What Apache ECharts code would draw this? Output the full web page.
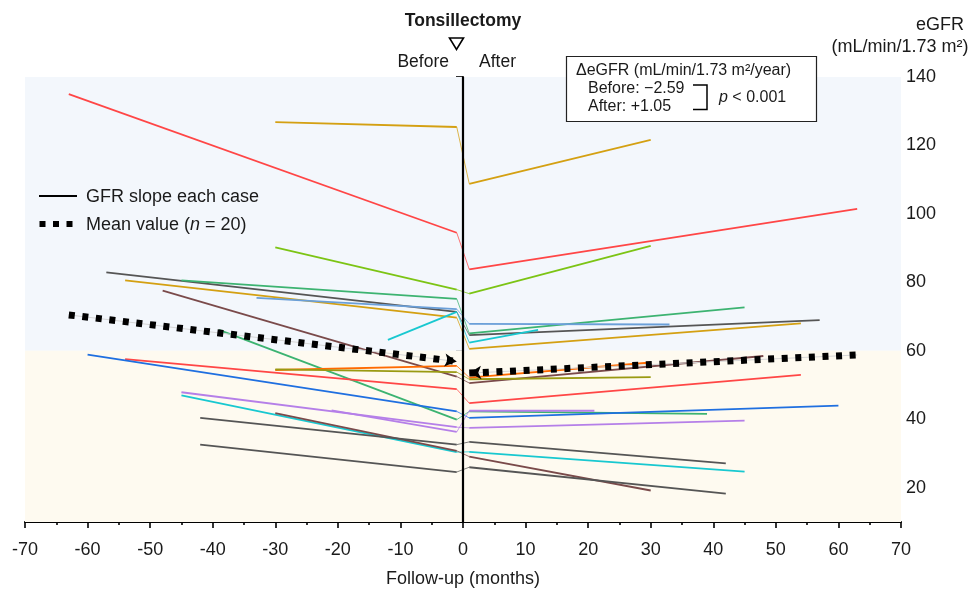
<!DOCTYPE html>
<html>
<head>
<meta charset="utf-8">
<script src="https://cdn.jsdelivr.net/npm/echarts@6/dist/echarts.min.js"></script>
<style>
  html, body { margin: 0; padding: 0; background: #fff; }
  #chart { width: 972px; height: 593px; }
</style>
</head>
<body>
<div id="chart"></div>
<script>
// follow-up window of each case (months before / after tonsillectomy)
const startMonth = [-63, -30, -30, -57, -45, -54, -33, -48, -12, -39, -30, -30, -54, -60, -45, -21, -45, -30, -42, -42]
const endMonth   = [63, 30, 30, 57, 45, 54, 33, 48, 12, 39, 30, 30, 54, 60, 45, 21, 45, 30, 42, 42]
// eGFR at the start / end of the "before" period
const beforeStart = [135, 126.8, 90.2, 82.9, 80.6, 80.6, 75.5, 77.6, 63.2, 66.1, 54.4, 54.6, 57.6, 58.9, 47.9, 42.6, 47.0, 41.8, 40.4, 32.6]
const beforeEnd   = [94.5, 125.4, 77.9, 71.4, 75.2, 69.7, 72.2, 52.5, 71.4, 39.9, 55.6, 53.8, 48.8, 42.3, 37.7, 36.3, 30.4, 30.8, 32.6, 24.6]
// eGFR at the start / end of the "after" period
const afterStart = [83.8, 108.8, 76.7, 64.6, 65.1, 60.6, 67.9, 50.6, 62.4, 42.3, 52.2, 51.7, 44.7, 40.4, 37.5, 42.5, 30.5, 29.1, 33.4, 26.0]
const afterEnd   = [101.5, 121.6, 90.7, 69.0, 72.7, 68.0, 67.7, 58.5, 66.1, 41.6, 56.6, 52.3, 53.0, 44.0, 39.6, 42.5, 24.7, 19.2, 27.1, 18.3]
const kinkMonth = 1
// mean value (n = 20)
const meanBeforeMonth = [-63, -1]
const meanBeforeValue = [70.5, 56.9]
const meanAfterMonth = [1, 63]
const meanAfterValue = [53.5, 58.8]
const yTicks = [20, 40, 60, 80, 100, 120, 140]

const caseColor = ['#ff4646', '#d4a012', '#7cc414', '#555555', '#3cb371', '#d4a012', '#6a9fd8',
  '#7a4a4a', '#18c8d0', '#3cb371', '#ff6a00', '#9a9a12', '#ff4646', '#1f6fe0', '#b57fe8',
  '#b57fe8', '#18c8d0', '#7a4a4a', '#555555', '#555555']

const FONT = '"Liberation Sans", Arial, sans-serif'
const INK = '#1a1a1a'

let series = []

// background bands
series.push({
  type: 'line',
  data: [],
  z: 1,
  markArea: {
    silent: true,
    itemStyle: {opacity: 1},
    data: [
      [{yAxis: 60, itemStyle: {color: '#f3f7fc'}}, {yAxis: 140}],
      [{yAxis: 10, itemStyle: {color: '#fefaf0'}}, {yAxis: 60}],
    ],
  },
})

for (let i = 0; i < startMonth.length; i++) {
  let c = caseColor[i]
  series.push({
    type: 'line', symbol: 'none', z: 3, silent: true,
    lineStyle: {color: c, width: 1.8},
    data: [[startMonth[i], beforeStart[i]], [-kinkMonth, beforeEnd[i]]],
  })
  series.push({
    type: 'line', symbol: 'none', z: 3, silent: true,
    lineStyle: {color: c, width: 1, opacity: 0.75},
    data: [[-kinkMonth, beforeEnd[i]], [kinkMonth, afterStart[i]]],
  })
  series.push({
    type: 'line', symbol: 'none', z: 3, silent: true,
    lineStyle: {color: c, width: 1.8},
    data: [[kinkMonth, afterStart[i]], [endMonth[i], afterEnd[i]]],
  })
}

// mean value: thin guide + dotted squares
let meanParts = [
  {m: meanBeforeMonth, v: meanBeforeValue, arrowAt: 1, rot: -97},
  {m: meanAfterMonth, v: meanAfterValue, arrowAt: 0, rot: 93},
]
meanParts.forEach(p => {
  let d = p.m.map((x, k) => [x, p.v[k]])
  series.push({
    type: 'line', symbol: 'none', z: 4, silent: true,
    lineStyle: {color: '#d6d6d6', width: 1},
    data: d,
  })
  series.push({
    type: 'line', z: 5, silent: true,
    symbol: (val, params) => params.dataIndex === p.arrowAt ? 'arrow' : 'none',
    symbolSize: [10, 12],
    symbolRotate: p.rot,
    itemStyle: {color: '#000'},
    lineStyle: {color: '#000', width: 7, type: [6, 7.6], cap: 'butt'},
    data: d,
  })
})

// vertical line at month 0
series.push({
  type: 'line',
  data: [],
  z: 8,
  markLine: {
    silent: true,
    symbol: 'none',
    label: {show: false},
    lineStyle: {color: '#000', width: 2.2, type: 'solid'},
    data: [{xAxis: 0}],
  },
})

let chart = echarts.init(document.getElementById('chart'))
chart.setOption({
  animation: false,
  textStyle: {fontFamily: FONT},
  grid: {left: 25, right: 71, top: 77, bottom: 69},
  xAxis: {
    type: 'value',
    min: -70,
    max: 70,
    interval: 10,
    axisLine: {lineStyle: {color: '#000', width: 2}},
    axisTick: {length: 6, lineStyle: {color: '#000', width: 1.6}},
    minorTick: {show: true, splitNumber: 2, length: 3, lineStyle: {color: '#000', width: 1.6}},
    splitLine: {show: false},
    minorSplitLine: {show: false},
    axisLabel: {color: INK, fontSize: 18, margin: 19, fontFamily: FONT},
    name: 'Follow-up (months)',
    nameLocation: 'middle',
    nameGap: 48,
    nameTextStyle: {color: INK, fontSize: 18, fontFamily: FONT},
  },
  yAxis: {
    type: 'value',
    position: 'right',
    min: 10,
    max: 140,
    axisLine: {show: true, lineStyle: {color: '#000', width: 2}},
    axisTick: {show: true, inside: true, length: 7, customValues: yTicks, lineStyle: {color: '#000', width: 1.6}},
    axisLabel: {color: INK, fontSize: 18, margin: 5, customValues: yTicks, fontFamily: FONT},
    splitLine: {show: false},
  },
  series: series,
  graphic: [
    // top annotation
    {type: 'text', z: 20, style: {text: 'Tonsillectomy', x: 463, y: 21, align: 'center', verticalAlign: 'middle',
      font: 'bold 17.5px ' + FONT, fill: INK}},
    {type: 'polygon', z: 20, shape: {points: [[449.5, 38], [463.5, 38], [456.5, 49.5]]},
      style: {fill: 'none', stroke: '#000', lineWidth: 1.6}},
    {type: 'text', z: 20, style: {text: 'Before', x: 449, y: 62.5, align: 'right', verticalAlign: 'middle',
      font: '17.5px ' + FONT, fill: INK}},
    {type: 'text', z: 20, style: {text: 'After', x: 479, y: 62.5, align: 'left', verticalAlign: 'middle',
      font: '17.5px ' + FONT, fill: INK}},
    // y axis title
    {type: 'text', z: 20, style: {text: 'eGFR', x: 940, y: 25, align: 'center', verticalAlign: 'middle',
      font: '18px ' + FONT, fill: INK}},
    {type: 'text', z: 20, style: {text: '(mL/min/1.73 m²)', x: 900, y: 47, align: 'center', verticalAlign: 'middle',
      font: '18px ' + FONT, fill: INK}},
    // legend
    {type: 'line', z: 20, shape: {x1: 39, y1: 196, x2: 77, y2: 196}, style: {stroke: '#000', lineWidth: 2.2}},
    {type: 'text', z: 20, style: {text: 'GFR slope each case', x: 86, y: 197.5, align: 'left', verticalAlign: 'middle',
      font: '18px ' + FONT, fill: INK}},
    {type: 'rect', z: 20, shape: {x: 39.5, y: 221, width: 6, height: 6}, style: {fill: '#000'}},
    {type: 'rect', z: 20, shape: {x: 53, y: 221, width: 6, height: 6}, style: {fill: '#000'}},
    {type: 'rect', z: 20, shape: {x: 66.5, y: 221, width: 6, height: 6}, style: {fill: '#000'}},
    {type: 'text', z: 20, style: {
      text: '{a|Mean value (}{i|n}{a| = 20)}', x: 86, y: 225, align: 'left', verticalAlign: 'middle',
      rich: {
        a: {fontSize: 18, fontFamily: FONT, fill: INK},
        i: {fontSize: 18, fontFamily: FONT, fontStyle: 'italic', fill: INK},
      },
    }},
    // slope box
    {type: 'rect', z: 20, shape: {x: 566.5, y: 56.5, width: 250, height: 65},
      style: {fill: '#fff', stroke: '#222', lineWidth: 1.2}},
    {type: 'text', z: 21, style: {text: 'ΔeGFR (mL/min/1.73 m²/year)', x: 576, y: 70.5, align: 'left', verticalAlign: 'middle',
      font: '16px ' + FONT, fill: INK}},
    {type: 'text', z: 21, style: {text: 'Before: −2.59', x: 588, y: 89, align: 'left', verticalAlign: 'middle',
      font: '16px ' + FONT, fill: INK}},
    {type: 'text', z: 21, style: {text: 'After: +1.05', x: 588, y: 107, align: 'left', verticalAlign: 'middle',
      font: '16px ' + FONT, fill: INK}},
    {type: 'polyline', z: 21, shape: {points: [[693, 85], [707, 85], [707, 109.5], [693, 109.5]]},
      style: {fill: 'none', stroke: '#000', lineWidth: 1.5}},
    {type: 'text', z: 21, style: {
      text: '{i|p}{a| < 0.001}', x: 719, y: 98, align: 'left', verticalAlign: 'middle',
      rich: {
        a: {fontSize: 16, fontFamily: FONT, fill: INK},
        i: {fontSize: 16, fontFamily: FONT, fontStyle: 'italic', fill: INK},
      },
    }},
  ],
})
</script>
</body>
</html>
